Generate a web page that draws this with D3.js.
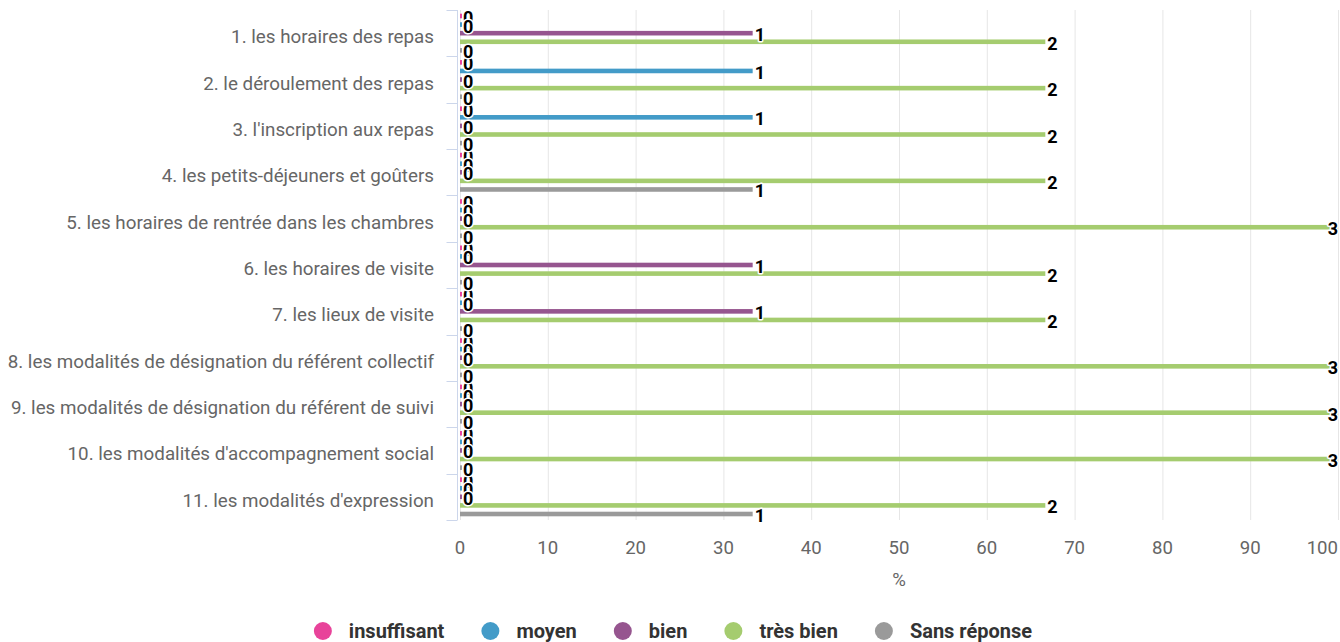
<!DOCTYPE html>
<html>
<head>
<meta charset="utf-8">
<script src="https://cdn.jsdelivr.net/npm/d3@7"></script>
<style>
  html, body { margin: 0; padding: 0; background: #fff; }
  svg { display: block; font-family: Roboto, "Noto Sans", sans-serif; }
</style>
</head>
<body>
<svg id="chart" width="1340" height="642"></svg>
<script>
const categories = [
  "1. les horaires des repas",
  "2. le déroulement des repas",
  "3. l'inscription aux repas",
  "4. les petits-déjeuners et goûters",
  "5. les horaires de rentrée dans les chambres",
  "6. les horaires de visite",
  "7. les lieux de visite",
  "8. les modalités de désignation du référent collectif",
  "9. les modalités de désignation du référent de suivi",
  "10. les modalités d'accompagnement social",
  "11. les modalités d'expression"
];
const seriesNames = ["insuffisant", "moyen", "bien", "très bien", "Sans réponse"];
const seriesColors = ["#e8439a", "#439bc8", "#96558f", "#a5cc6f", "#9a9a9a"];
// counts of answers (3 respondents per question)
const insuffisant = [0, 0, 0, 0, 0, 0, 0, 0, 0, 0, 0];
const moyen       = [0, 1, 1, 0, 0, 0, 0, 0, 0, 0, 0];
const bien        = [1, 0, 0, 0, 0, 1, 1, 0, 0, 0, 0];
const tresBien    = [2, 2, 2, 2, 3, 2, 2, 3, 3, 3, 2];
const sansReponse = [0, 0, 0, 1, 0, 0, 0, 0, 0, 0, 1];
const totals      = [3, 3, 3, 3, 3, 3, 3, 3, 3, 3, 3];
const xTicks = [0, 10, 20, 30, 40, 50, 60, 70, 80, 90, 100];
const xTitle = "%";

const seriesData = [insuffisant, moyen, bien, tresBien, sansReponse];

const svg = d3.select("#chart");
const W = 1340;
const plot = { left: 460, right: 1338, top: 10, bottom: 520 };

const x = d3.scaleLinear().domain([0, 100]).range([plot.left, plot.right]);
const y = d3.scaleBand().domain(categories).range([plot.top, plot.bottom]).padding(0);
const inner = d3.scaleBand().domain(seriesNames)
  .range([1.7, y.bandwidth() - 1.7]).padding(0);
const barH = 4.6;

// gridlines
svg.append("g").selectAll("line").data(xTicks).join("line")
  .attr("x1", d => x(d) + 0.5).attr("x2", d => x(d) + 0.5)
  .attr("y1", plot.top).attr("y2", plot.bottom)
  .attr("stroke", "#e6e6e6").attr("stroke-width", 1);

// y axis line and ticks
const yAxisX = plot.left - 2.5;
svg.append("line").attr("x1", yAxisX).attr("x2", yAxisX)
  .attr("y1", plot.top).attr("y2", plot.bottom)
  .attr("stroke", "#ccd6eb").attr("stroke-width", 1);
const bounds = categories.map(c => y(c)).concat([plot.bottom]);
svg.append("g").selectAll("line").data(bounds).join("line")
  .attr("x1", yAxisX - 11).attr("x2", yAxisX)
  .attr("y1", d => Math.round(d) + 0.5).attr("y2", d => Math.round(d) + 0.5)
  .attr("stroke", "#ccd6eb").attr("stroke-width", 1);

// category labels
svg.append("g").selectAll("text").data(categories).join("text")
  .attr("x", 434).attr("y", d => y(d) + y.bandwidth() / 2 + 10)
  .attr("text-anchor", "end")
  .attr("font-size", 18.8).attr("fill", "#666666")
  .text(d => d);

// x tick labels
const xl = svg.append("g").selectAll("text").data(xTicks).join("text")
  .attr("x", d => x(d)).attr("y", 553.5)
  .attr("text-anchor", "middle")
  .attr("font-size", 18.6).attr("fill", "#666666")
  .text(d => d);
xl.each(function () {
  const bb = this.getBBox();
  if (bb.x + bb.width > W - 2) {
    d3.select(this).attr("x", +d3.select(this).attr("x") - (bb.x + bb.width - (W - 2)));
  }
});

// x title
svg.append("text").attr("x", (plot.left + plot.right) / 2).attr("y", 585.5)
  .attr("text-anchor", "middle").attr("font-size", 18.6).attr("fill", "#666666")
  .text(xTitle);

// bars
const pct = (v, i) => v / totals[i] * 100;
seriesData.forEach((vals, s) => {
  const name = seriesNames[s];
  svg.append("g").selectAll("rect").data(vals).join("rect")
    .attr("x", plot.left)
    .attr("y", (d, i) => y(categories[i]) + inner(name) + inner.bandwidth() / 2 - barH / 2)
    .attr("width", (d, i) => Math.max(x(pct(d, i)) - plot.left, 2))
    .attr("height", barH)
    .attr("fill", seriesColors[s]);
});

// data labels
seriesData.forEach((vals, s) => {
  const name = seriesNames[s];
  const g = svg.append("g");
  g.selectAll("text").data(vals).join("text")
    .attr("x", (d, i) => Math.max(x(pct(d, i)), plot.left + 1) + 2)
    .attr("y", (d, i) => y(categories[i]) + inner(name) + inner.bandwidth() / 2 + 8)
    .attr("font-size", 18).attr("font-weight", "bold")
    .attr("fill", "#000")
    .attr("stroke", "#fff").attr("stroke-width", 3)
    .attr("stroke-linejoin", "round")
    .attr("paint-order", "stroke")
    .text(d => d)
    .each(function () {
      const bb = this.getBBox();
      if (bb.x + bb.width > W - 2) {
        d3.select(this).attr("x", W - 2 - bb.width);
      }
    });
});

// legend
const legend = svg.append("g");
let cx = 0;
seriesNames.forEach((n, i) => {
  const it = legend.append("g");
  it.append("circle").attr("cx", 9).attr("cy", 0).attr("r", 9).attr("fill", seriesColors[i]);
  const t = it.append("text").attr("x", 35).attr("y", 6.5)
    .attr("font-size", 20).attr("font-weight", "bold").attr("fill", "#333333").text(n);
  const w = 35 + t.node().getComputedTextLength();
  it.attr("transform", `translate(${cx},0)`);
  cx += w + 37;
});
const legendW = cx - 37;
legend.attr("transform", `translate(${(W - legendW) / 2 + 3},631)`);
</script>
</body>
</html>
